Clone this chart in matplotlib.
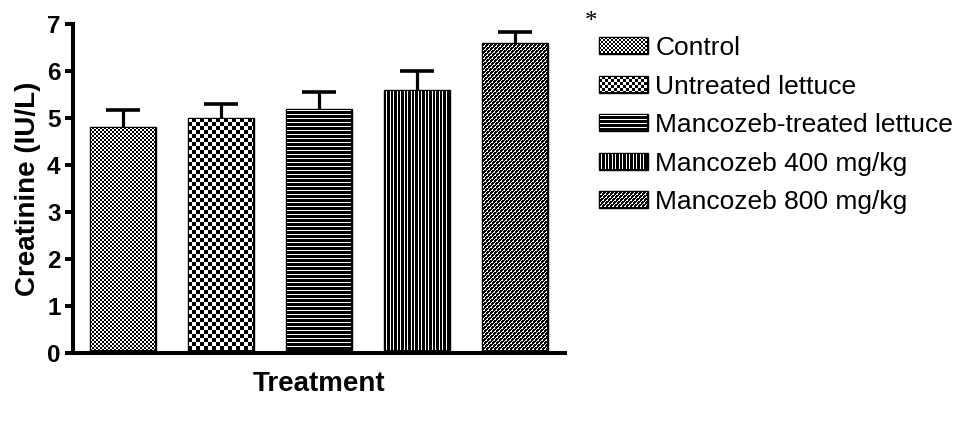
import numpy as np
import matplotlib
matplotlib.use("Agg")
import matplotlib.pyplot as plt

# group means and SEM (creatinine, IU/L)
groups = ["Control", "Untreated lettuce", "Mancozeb-treated lettuce",
          "Mancozeb 400 mg/kg", "Mancozeb 800 mg/kg"]
means = [4.8, 5.0, 5.2, 5.6, 6.6]
errs = [0.37, 0.30, 0.35, 0.40, 0.22]
fills = ["fine_check", "check", "hlines", "vlines", "diag"]

plt.rcParams["font.family"] = ["Liberation Sans", "DejaVu Sans"]


def pattern(kind, h, w, small=False):
    """Black/white fill pattern with a 1 px black border."""
    r, c = np.mgrid[0:h, 0:w]
    if kind == "fine_check":
        white = ((r // 2 + c // 2) % 2) == 0
    elif kind == "check":
        s = 3 if small else 4
        white = ((r // s + c // s) % 2) == 0
    elif kind == "hlines":
        white = (r % 4) == 1
    elif kind == "vlines":
        white = np.isin(c % 7, [2, 6])
    else:
        d = (c + r) % 4
        white = (d == 0) | ((d == 1) & (r % 3 == 0))
    img = np.where(white, 255, 0).astype(np.uint8)
    img[0, :] = 0
    img[-1, :] = 0
    img[:, 0] = 0
    img[:, -1] = 0
    return np.dstack([img, img, img])


fig = plt.figure(figsize=(9.56, 4.21), dpi=100)
ax = fig.add_axes([73 / 956, (421 - 353) / 421, (565 - 73) / 956, (353 - 24) / 421])

x = np.arange(len(means))
bars = ax.bar(x, means, width=0.673, color="white", edgecolor="black",
              linewidth=1)
ax.errorbar(x, means, yerr=errs, fmt="none", ecolor="black",
            elinewidth=2.3, capsize=12, capthick=2.6)

ax.set_xlim(-0.51, 4.505)
ax.set_ylim(0, 7)
ax.set_yticks(range(8))
ax.set_xticks([])
for s in ["top", "right"]:
    ax.spines[s].set_visible(False)
for s in ["left", "bottom"]:
    ax.spines[s].set_linewidth(2.9)
ax.tick_params(axis="y", direction="out", length=6, width=2.9, pad=3,
               labelsize=17.5)
for lab in ax.get_yticklabels():
    lab.set_fontweight("bold")

ax.set_ylabel("Creatinine (IU/L)", fontsize=20, fontweight="bold", labelpad=4)
ax.set_xlabel("Treatment", fontsize=20, fontweight="bold", labelpad=13)

leg = fig.legend(bars.patches, groups, loc="upper left",
                 bbox_to_anchor=(599 / 956, 1 - 36 / 421),
                 frameon=False, fontsize=19, handlelength=1.85,
                 handleheight=0.6, handletextpad=0.28, labelspacing=0.55,
                 borderaxespad=0, borderpad=0)

fig.text(591 / 956, 1 - 22 / 421, "*", family="Liberation Serif",
         fontsize=18, ha="center", va="center")

# overlay pixel patterns on bars and legend keys
fig.canvas.draw()
for patch, kind in zip(bars.patches, fills):
    bb = patch.get_window_extent()
    xo = int(round(bb.x0))
    w = int(round(bb.x1)) - xo
    yo = int(round(bb.y0)) + 2
    h = int(round(bb.y1)) - yo
    fig.figimage(pattern(kind, h, w), xo, yo, origin="upper", zorder=1)

for handle, kind in zip(leg.legend_handles, fills):
    bb = handle.get_window_extent()
    xo = int(round(bb.x0))
    w = int(round(bb.x1)) - xo
    yo = int(round(bb.y0))
    h = int(round(bb.y1)) - yo
    fig.figimage(pattern(kind, h, w, small=True), xo, yo, origin="upper",
                 zorder=10)

fig.savefig("out.png", dpi=100)
